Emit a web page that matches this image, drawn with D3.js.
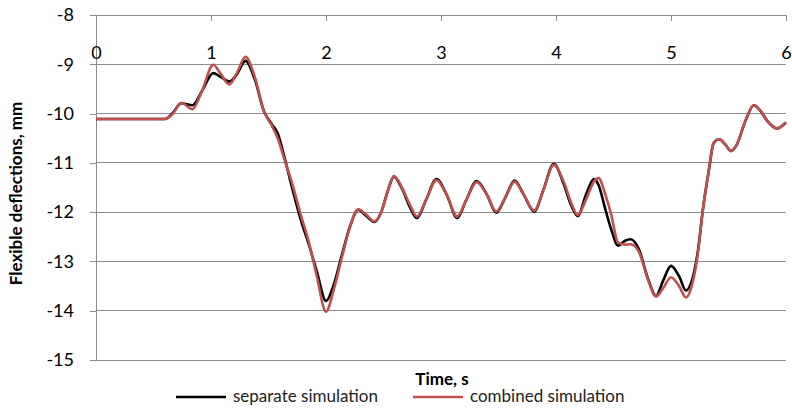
<!DOCTYPE html>
<html>
<head>
<meta charset="utf-8">
<script src="https://cdn.jsdelivr.net/npm/d3@7"></script>
<style>
  body { margin: 0; background: #fff; }
  svg { display: block; font-family: Lato, "Open Sans", sans-serif; }
</style>
</head>
<body>
<div id="chart"></div>
<script>
// time points, s
const times = [0, 0.3, 0.6, 0.67, 0.74, 0.84, 0.92, 1.02, 1.08, 1.16, 1.22, 1.30, 1.38, 1.46, 1.53, 1.58,
  1.64, 1.71, 1.78, 1.85, 1.92, 2.00, 2.07, 2.14, 2.21, 2.28, 2.35, 2.42, 2.48, 2.54, 2.59,
  2.66, 2.73, 2.79, 2.87, 2.96, 3.05, 3.14, 3.22, 3.31, 3.40, 3.48, 3.56, 3.64, 3.72, 3.81,
  3.89, 3.98, 4.07, 4.13, 4.19, 4.26, 4.33, 4.37, 4.43, 4.48, 4.54, 4.60, 4.65, 4.72, 4.80,
  4.87, 4.93, 5.00, 5.07, 5.13, 5.18, 5.23, 5.28, 5.33, 5.37, 5.42, 5.47, 5.52, 5.57, 5.65,
  5.72, 5.78, 5.84, 5.92, 6.00];

// separate simulation (black)
const separate = [-10.11, -10.11, -10.11, -9.98, -9.79, -9.83, -9.55, -9.18, -9.25, -9.35, -9.22, -8.93, -9.30, -9.95, -10.22, -10.40,
  -10.90, -11.55, -12.15, -12.65, -13.20, -13.80, -13.45, -12.85, -12.28, -11.95, -12.08, -12.20, -12.00, -11.55, -11.28,
  -11.52, -11.90, -12.12, -11.75, -11.33, -11.65, -12.12, -11.75, -11.37, -11.65, -12.01, -11.70, -11.36, -11.65, -11.99,
  -11.55, -11.02, -11.45, -11.85, -12.08, -11.65, -11.33, -11.45, -11.95, -12.35, -12.68, -12.58, -12.55, -12.75, -13.35,
  -13.70, -13.40, -13.09, -13.30, -13.59, -13.40, -12.85, -11.90, -11.14, -10.60, -10.52, -10.62, -10.76, -10.64, -10.13,
  -9.83, -9.95, -10.16, -10.30, -10.18];

// combined simulation (red)
const combined = [-10.11, -10.11, -10.11, -10.00, -9.78, -9.91, -9.55, -9.01, -9.18, -9.41, -9.20, -8.85, -9.25, -9.95, -10.25, -10.50,
  -10.94, -11.45, -12.05, -12.60, -13.30, -14.02, -13.55, -12.90, -12.29, -11.94, -12.05, -12.19, -12.00, -11.55, -11.27,
  -11.50, -11.85, -12.09, -11.75, -11.35, -11.65, -12.09, -11.75, -11.39, -11.65, -11.99, -11.70, -11.38, -11.65, -11.97,
  -11.55, -11.04, -11.40, -11.80, -12.06, -11.75, -11.38, -11.31, -11.65, -12.05, -12.62, -12.66, -12.65, -12.80, -13.37,
  -13.71, -13.55, -13.32, -13.50, -13.73, -13.50, -12.90, -11.90, -11.14, -10.60, -10.52, -10.62, -10.76, -10.64, -10.13,
  -9.83, -9.95, -10.16, -10.30, -10.18];

const xTicks = [0, 1, 2, 3, 4, 5, 6];
const yTicks = [-8, -9, -10, -11, -12, -13, -14, -15];
const seriesNames = ['separate simulation', 'combined simulation'];
const seriesColors = ['#000000', '#C0504D'];

const width = 792, height = 408;
const margin = { top: 15, right: 6, bottom: 48, left: 96 };

const svg = d3.select('#chart').append('svg')
  .attr('width', width)
  .attr('height', height);

const x = d3.scaleLinear().domain([0, 6]).range([margin.left, width - margin.right]);
const y = d3.scaleLinear().domain([-15, -8]).range([height - margin.bottom, margin.top]);

// plain hyphen like the original, not the unicode minus
const fmt = d => String(d);

// gridlines
svg.append('g')
  .selectAll('line')
  .data(yTicks)
  .join('line')
  .attr('x1', x(0)).attr('x2', x(6))
  .attr('y1', d => y(d)).attr('y2', d => y(d))
  .attr('stroke', '#8c8c8c')
  .attr('stroke-width', 1)
  .attr('shape-rendering', 'crispEdges');

// y axis
const yAxis = svg.append('g')
  .attr('transform', `translate(${x(0)},0)`)
  .call(d3.axisLeft(y).tickValues(yTicks).tickSize(6).tickPadding(16).tickFormat(fmt));
yAxis.selectAll('line, path').attr('stroke', '#8c8c8c').attr('shape-rendering', 'crispEdges');
yAxis.selectAll('text').attr('font-size', 18).attr('fill', '#000').style('font-family', 'Lato');

// x axis on top, labels below the line
const xAxis = svg.append('g')
  .attr('transform', `translate(0,${y(-8)})`)
  .call(d3.axisBottom(x).tickValues(xTicks).tickSize(6).tickPadding(25).tickFormat(fmt));
xAxis.selectAll('line, path').attr('stroke', '#8c8c8c').attr('shape-rendering', 'crispEdges');
xAxis.selectAll('text').attr('font-size', 18).attr('fill', '#000').style('font-family', 'Lato');

// lines
const seriesData = [separate, combined];
const line = d3.line()
  .x((d, i) => x(times[i]))
  .y(d => y(d))
  .curve(d3.curveMonotoneX);

svg.append('g')
  .selectAll('path')
  .data(seriesData)
  .join('path')
  .attr('d', d => line(d))
  .attr('fill', 'none')
  .attr('stroke', (d, i) => seriesColors[i])
  .attr('stroke-width', 2.6)
  .attr('stroke-linejoin', 'round');

// axis titles
svg.append('text')
  .attr('transform', `translate(22,${(y(-8) + y(-15)) / 2 + 6}) rotate(-90)`)
  .attr('text-anchor', 'middle')
  .attr('font-size', 17)
  .attr('font-weight', 'bold')
  .text('Flexible deflections, mm');

svg.append('text')
  .attr('x', 442)
  .attr('y', 385)
  .attr('text-anchor', 'middle')
  .attr('font-size', 17)
  .attr('font-weight', 'bold')
  .text('Time, s');

// legend
const legendPos = [176, 413];
const legend = svg.append('g')
  .selectAll('g')
  .data(seriesNames)
  .join('g')
  .attr('transform', (d, i) => `translate(${legendPos[i]},397)`);
legend.append('line')
  .attr('x1', 0).attr('x2', 50)
  .attr('stroke', (d, i) => seriesColors[i])
  .attr('stroke-width', 2.6);
legend.append('text')
  .attr('x', 57)
  .attr('y', 5)
  .attr('font-size', 17)
  .attr('fill', '#222')
  .text(d => d);
</script>
</body>
</html>
